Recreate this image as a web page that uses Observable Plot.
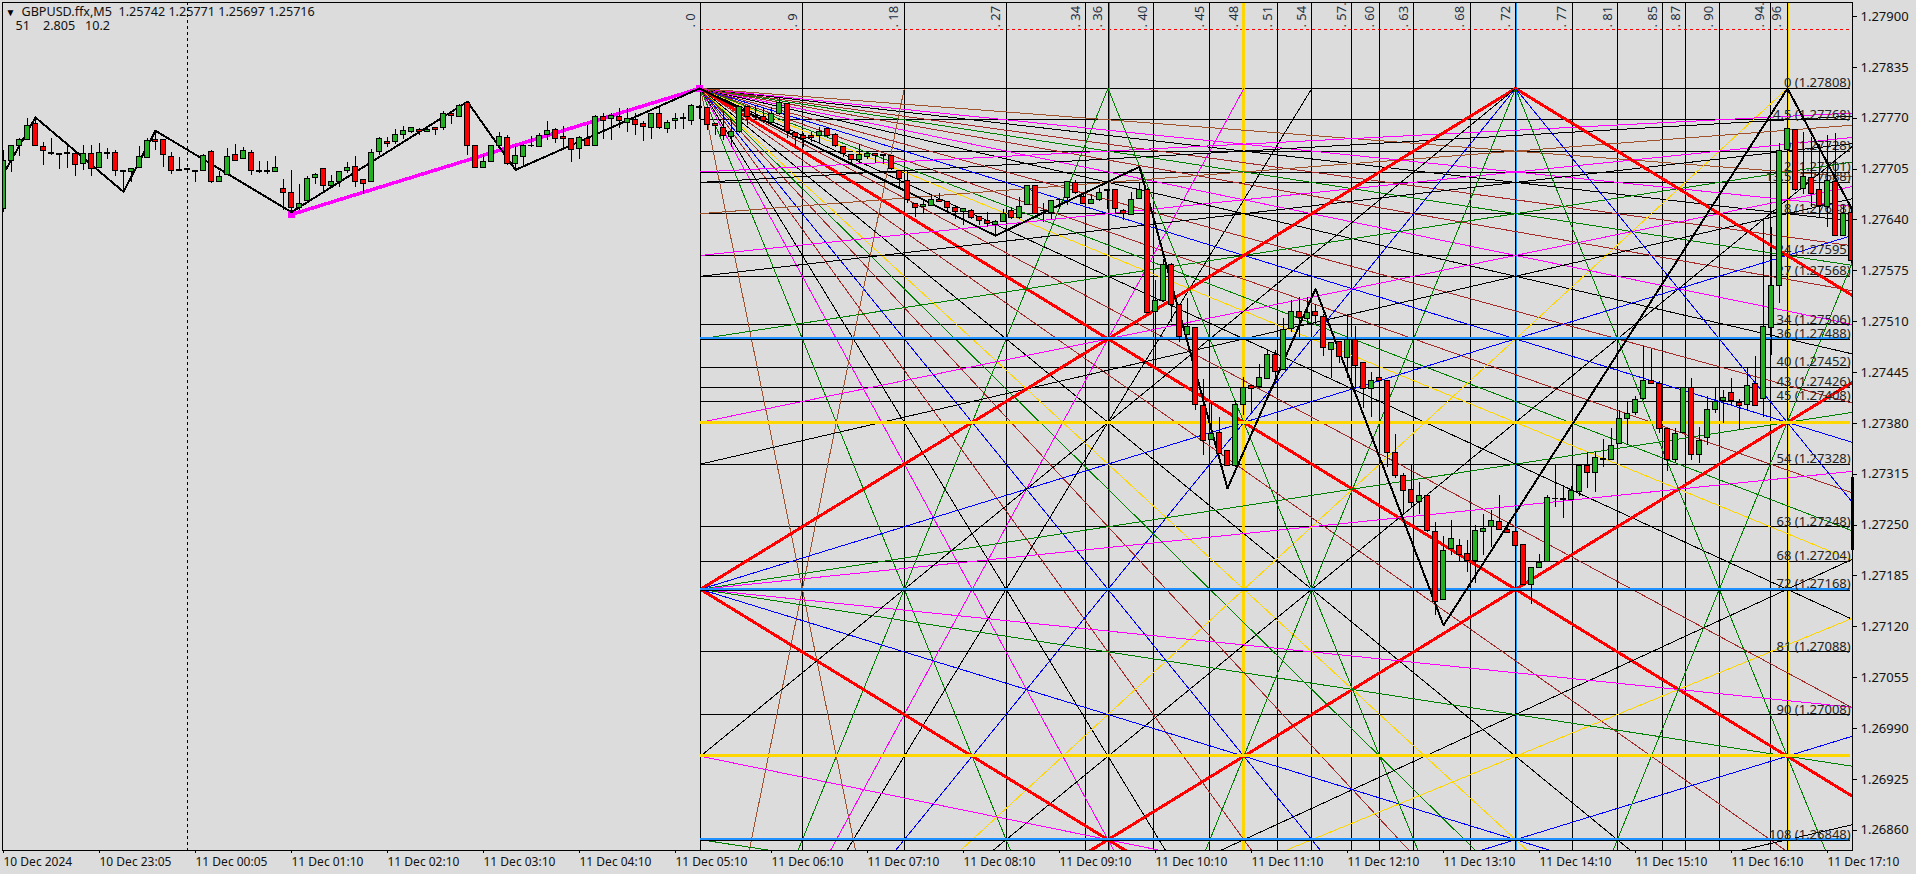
<!DOCTYPE html>
<html>
<head>
<meta charset="utf-8">
<script src="https://cdn.jsdelivr.net/npm/d3@7"></script>
<script src="https://cdn.jsdelivr.net/npm/@observablehq/plot@0.6"></script>
<style>html,body{margin:0;padding:0;background:#dcdcdc;overflow:hidden}svg{display:block}</style>
</head>
<body>
<div id="chart"></div>
<script>
// candle values in points (1e-5), one entry per 5-minute bar
const opens=[127654,127715,127734,127742,127762,127733,127725,127724,127726,127724,127712,127724,127707,127726,127726,127703,127701,127706,127719,127742,127742,127721,127704,127705,127703,127703,127727,127688,127698,127723,127718,127726,127703,127702,127701,127680,127675,127655,127664,127694,127705,127683,127688,127702,127708,127691,127688,127727,127739,127739,127749,127752,127755,127753,127757,127757,127775,127772,127789,127734,127707,127714,127734,127745,127712,127721,127735,127733,127749,127755,127746,127743,127731,127744,127735,127772,127769,127772,127764,127768,127762,127758,127775,127756,127766,127770,127767,127784,127783,127762,127758,127746,127752,127784,127773,127771,127764,127776,127788,127751,127747,127747,127747,127756,127749,127733,127723,127717,127721,127724,127723,127722,127702,127690,127660,127656,127658,127666,127663,127655,127650,127651,127644,127639,127633,127638,127652,127643,127659,127684,127652,127649,127666,127668,127687,127669,127661,127666,127678,127678,127651,127646,127667,127678,127522,127537,127583,127531,127493,127502,127402,127359,127368,127345,127325,127404,127428,127426,127437,127468,127448,127501,127522,127514,127522,127516,127474,127484,127464,127486,127457,127424,127438,127434,127342,127313,127295,127279,127287,127241,127154,127219,127223,127213,127204,127241,127247,127254,127244,127241,127224,127173,127195,127203,127284,127284,127282,127292,127325,127316,127334,127333,127354,127386,127393,127411,127434,127431,127373,127333,127368,127425,127339,127361,127397,127408,127419,127406,127404,127431,127411,127502,127555,127729,127755,127680,127693,127678,127657,127689,127620,127649];
const closes=[127715,127734,127742,127760,127734,127728,127724,127723,127724,127710,127724,127705,127726,127724,127703,127701,127705,127720,127741,127739,127723,127703,127702,127704,127701,127722,127688,127695,127720,127715,127728,127702,127701,127701,127707,127675,127655,127661,127692,127698,127684,127688,127701,127707,127688,127686,127725,127743,127737,127749,127754,127757,127752,127755,127755,127776,127773,127786,127735,127707,127714,127734,127746,127711,127722,127735,127734,127747,127754,127743,127744,127730,127745,127735,127772,127766,127773,127767,127769,127761,127759,127775,127757,127764,127769,127769,127785,127783,127761,127760,127747,127753,127784,127772,127771,127766,127776,127790,127752,127746,127744,127745,127753,127747,127734,127724,127717,127723,127724,127722,127722,127705,127692,127665,127655,127659,127666,127663,127655,127650,127654,127642,127639,127635,127637,127648,127643,127657,127683,127648,127651,127664,127665,127688,127674,127661,127666,127675,127677,127654,127648,127666,127678,127521,127537,127583,127531,127491,127503,127404,127357,127367,127341,127325,127404,127425,127424,127438,127468,127446,127499,127522,127515,127521,127517,127477,127483,127465,127487,127454,127424,127434,127434,127342,127313,127293,127278,127287,127242,127152,127217,127232,127212,127204,127243,127245,127255,127244,127240,127223,127174,127195,127202,127285,127283,127282,127293,127326,127317,127336,127333,127351,127385,127392,127410,127434,127431,127373,127333,127367,127425,127339,127357,127397,127407,127413,127408,127402,127428,127402,127503,127555,127728,127756,127678,127695,127673,127658,127690,127620,127648,127587];
const highs=[127729,127735,127744,127770,127770,127739,127744,127725,127735,127724,127735,127735,127738,127731,127729,127703,127705,127734,127744,127752,127742,127726,127720,127706,127703,127724,127729,127702,127731,127737,127733,127729,127715,127715,127721,127692,127703,127685,127695,127700,127705,127697,127702,127714,127721,127691,127730,127745,127745,127756,127759,127757,127757,127760,127758,127778,127776,127787,127792,127735,127722,127734,127752,127748,127734,127737,127747,127750,127766,127757,127759,127744,127747,127761,127773,127776,127776,127783,127782,127776,127766,127776,127784,127767,127776,127776,127787,127786,127783,127762,127778,127767,127785,127784,127786,127784,127784,127797,127788,127751,127750,127752,127758,127758,127750,127733,127723,127737,127727,127724,127724,127722,127703,127703,127660,127665,127672,127674,127663,127655,127654,127653,127644,127649,127639,127654,127656,127669,127683,127684,127661,127665,127666,127688,127690,127675,127673,127680,127678,127678,127654,127675,127688,127680,127563,127590,127584,127531,127539,127502,127436,127407,127388,127345,127409,127439,127428,127455,127475,127473,127514,127537,127541,127541,127532,127519,127483,127484,127516,127504,127457,127445,127467,127434,127366,127316,127327,127305,127287,127254,127236,127256,127232,127230,127250,127264,127269,127288,127254,127241,127224,127196,127213,127288,127328,127301,127299,127328,127343,127343,127359,127373,127397,127407,127414,127478,127474,127434,127373,127373,127425,127438,127375,127414,127424,127422,127437,127411,127451,127465,127642,127631,127738,127757,127755,127752,127746,127737,127748,127750,127658,127656];
const lows=[127650,127701,127721,127741,127734,127709,127723,127704,127706,127696,127703,127695,127707,127717,127695,127678,127688,127706,127719,127729,127707,127698,127702,127703,127688,127703,127687,127688,127697,127715,127718,127697,127699,127698,127701,127652,127648,127652,127664,127685,127675,127683,127682,127699,127682,127673,127688,127723,127733,127736,127743,127751,127748,127752,127748,127754,127762,127771,127723,127706,127706,127714,127731,127710,127705,127710,127733,127733,127742,127738,127731,127714,127717,127734,127734,127743,127742,127757,127752,127748,127740,127743,127756,127750,127755,127755,127761,127769,127754,127748,127741,127733,127751,127761,127767,127763,127763,127773,127744,127733,127733,127739,127737,127744,127732,127720,127712,127712,127717,127712,127711,127703,127682,127661,127643,127648,127657,127663,127650,127641,127633,127641,127633,127631,127620,127638,127641,127641,127658,127647,127637,127641,127654,127658,127673,127660,127660,127663,127654,127648,127639,127646,127667,127521,127452,127537,127509,127483,127492,127396,127339,127358,127340,127325,127324,127390,127394,127424,127436,127431,127448,127496,127490,127507,127507,127466,127437,127456,127437,127426,127399,127388,127409,127324,127310,127264,127273,127263,127241,127135,127154,127211,127204,127190,127175,127211,127222,127243,127239,127222,127173,127149,127194,127203,127273,127258,127282,127286,127297,127292,127324,127333,127354,127352,127390,127409,127431,127367,127319,127330,127367,127333,127329,127352,127393,127380,127403,127371,127395,127401,127388,127467,127533,127729,127677,127673,127656,127643,127631,127619,127619,127584];

// time axis: one label every 12 bars
const timeLabels=["10 Dec 2024","10 Dec 23:05","11 Dec 00:05","11 Dec 01:10","11 Dec 02:10","11 Dec 03:10","11 Dec 04:10","11 Dec 05:10","11 Dec 06:10","11 Dec 07:10","11 Dec 08:10","11 Dec 09:10","11 Dec 10:10","11 Dec 11:10","11 Dec 12:10","11 Dec 13:10","11 Dec 14:10","11 Dec 15:10","11 Dec 16:10","11 Dec 17:10"];
const priceTicks=[1.279,1.27835,1.2777,1.27705,1.2764,1.27575,1.2751,1.27445,1.2738,1.27315,1.2725,1.27185,1.2712,1.27055,1.2699,1.26925,1.2686];

// zigzag and the magenta swing [bar, points]
const zigzagBars=[0,4,15,19,36,58,64,87,124,142,153,164,180,223,231];
const zigzagPts=[127699,127771,127676,127754,127650,127791,127704,127808,127620,127708,127297,127552,127122,127808,127655];
const swingBars=[36,87];
const swingPts=[127647,127808];

// Gann levels (unit, price text)
const levelUnits=[0,4.5,9,12,13.5,18,24,27,34,36,40,43,45,48,54,63,68,72,81,90,96,108];
const levelPrices=[1.27808,1.27768,1.27728,1.27701,1.27688,1.27648,1.27595,1.27568,1.27506,1.27488,1.27452,1.27426,1.27408,1.27381,1.27328,1.27248,1.27204,1.27168,1.27088,1.27008,1.26955,1.26848];
const timeUnits=[0,9,18,27,34,36,40,45,48,51,54,57.5,60,63,68,72,77,81,85,87,90,94.5,96];

// fan slopes (price units per time unit) and colours
const SIENNA="#a0522d",DRED="#a52a2a",GREEN="#008000",MAG="#ff00ff",BLUE="#0000ff",GOLD="#ffd700",RED="#ff0000",BLK="#000000",SKY="#1e90ff";
const originFan=[[8,SIENNA],[4,GREEN],[3,MAG],[8/3,BLK],[9/4,DRED],[2,BLUE],[7/4,DRED],[8/5,GREEN],[3/2,GOLD],[4/3,BLK],[8/7,DRED],[1,RED],[7/8,DRED],[3/4,BLK],[2/3,GOLD],[5/8,GREEN],[4/7,DRED],[1/2,BLUE],[4/9,DRED],[3/8,BLK],[1/3,MAG],[2/7,DRED],[1/4,GREEN],[2/9,DRED],[3/16,BLK],[1/6,MAG],[1/8,SIENNA]];
const lowerHubFan=[[8,SIENNA],[4,GREEN],[3,MAG],[8/3,BLK],[2,BLUE],[3/2,GOLD],[4/3,BLK],[1,RED],[3/4,BLK],[2/3,GOLD],[1/2,BLUE],[3/8,BLK]];
const farHubFan=[[1/12,MAG],[3/32,BLK],[1/8,SIENNA],[1/6,MAG],[3/16,BLK],[1/4,GREEN],[1/3,MAG],[3/8,BLK],[1/2,BLUE]];
const midHubFan=[[1,RED],[1/2,BLUE],[1/4,GREEN],[1/6,MAG]];
const topHubFan=[[1,RED],[2,BLUE],[4,GREEN]];

const BAR0=87.125, BARS_PER_UNIT=1.415, P0=1.27808, P_PER_UNIT=0.0096/108, FAR=220;
const bx=n=>BAR0+n*BARS_PER_UNIT;
const py=n=>P0-n*P_PER_UNIT;

const segs=[];
const seg=(a,b,c,d,color)=>segs.push({x1:bx(a),y1:py(b),x2:bx(c),y2:py(d),color,w:color===RED?3:1});
for(const [s,c] of originFan) seg(0,0,FAR,FAR*s,c);
for(const [s,c] of lowerHubFan) seg(0,144,144/s,0,c);
for(const [s,c] of farHubFan) seg(144,0,0,144*s,c);
for(const [s,c] of midHubFan){ seg(0,72,72/s,0,c); seg(0,72,FAR,72+FAR*s,c); }
for(const [s,c] of topHubFan) seg(72,0,72+FAR,FAR*s,c);
seg(0,96,72,0,BLK);
seg(0,96,FAR,96+FAR/3,MAG);
seg(0,108,FAR,108+FAR/4,GREEN);
seg(72,0,36,144,GREEN);
seg(36,0,72,144,GREEN);
seg(108,0,72,144,GREEN);

const bars=opens.map((o,i)=>({i,o:o/1e5,c:closes[i]/1e5,h:highs[i]/1e5,l:lows[i]/1e5}));
const levelRows=levelUnits.map((u,k)=>({u,p:levelPrices[k],txt:`${u} (${levelPrices[k].toFixed(5)})`,color:(u===36||u===72||u===108)?SKY:(u===48||u===96)?GOLD:null}));
const labelled=levelRows.filter(d=>d.u!==48&&d.u!==96);
const zig=zigzagBars.map((b,k)=>({b,p:zigzagPts[k]/1e5}));
const swing=swingBars.map((b,k)=>({b,p:swingPts[k]/1e5}));
const tickBars=timeLabels.map((_,k)=>k*12);
const FONT="'Noto Sans'";
const endBar=230.9;

const chart=Plot.plot({
  width:1916,height:874,
  marginLeft:2,marginRight:64,marginTop:2,marginBottom:24,
  x:{domain:[-0.125,231.125]},
  y:{domain:[1.268342,1.279179]},
  style:{background:"#dcdcdc",fontFamily:FONT,fontSize:"12px",color:"#1a1a1a",shapeRendering:"crispEdges"},
  marks:[
    // chart grid
    Plot.ruleX([23],{x:d=>d,stroke:"#000",strokeDasharray:"3,3"}),
    Plot.ruleY([1.27883],{y:d=>d,x1:bx(0),x2:231.125,stroke:RED,strokeDasharray:"3,3"}),
    Plot.text(timeUnits,{x:d=>bx(d),y:()=>1.27882,text:d=>". "+d,rotate:-90,textAnchor:"start",dx:-10,dy:-3,fill:"#1f2f3f",clip:true,fontSize:13}),
    Plot.ruleY(levelRows,{y:"p",x1:()=>bx(0),x2:()=>endBar,stroke:d=>d.color===GOLD?"none":"#000"}),
    Plot.ruleX(timeUnits,{x:d=>bx(d),stroke:d=>d===48?GOLD:"#000",strokeWidth:d=>d===48?3:1}),
    Plot.ruleX([36,72],{x:d=>bx(d),dx:1,stroke:SKY,strokeWidth:1}),
    Plot.ruleX([96],{x:d=>bx(d),dx:1,stroke:GOLD,strokeWidth:1}),
    Plot.link(segs,{x1:"x1",y1:"y1",x2:"x2",y2:"y2",stroke:"color",strokeWidth:"w",clip:true}),
    Plot.ruleY(levelRows.filter(d=>d.color===SKY),{y:"p",x1:()=>bx(0),x2:()=>endBar,stroke:"#000",dy:1}),
    Plot.ruleY(levelRows.filter(d=>d.color),{y:"p",x1:()=>bx(0),x2:()=>endBar,stroke:"color",strokeWidth:d=>d.color===GOLD?3:2,dy:d=>d.color===GOLD?0:-0.5}),
    Plot.text(labelled,{x:()=>endBar,y:"p",text:"txt",textAnchor:"end",lineAnchor:"bottom",fill:"#222",fontSize:13,dy:-1}),
    // zigzags
    Plot.line(swing,{x:"b",y:"p",stroke:MAG,strokeWidth:3.5}),
    Plot.dot(swing,{x:"b",y:"p",symbol:"square",r:3.5,fill:MAG}),
    Plot.line(zig,{x:"b",y:"p",stroke:"#000",strokeWidth:2,clip:true}),
    // candles
    Plot.ruleX(bars,{x:"i",y1:"l",y2:"h",stroke:"#000",clip:true}),
    Plot.rect(bars,{x1:d=>d.i-0.26,x2:d=>d.i+0.26,y1:"o",y2:"c",fill:d=>d.c>d.o?"#22b022":"#ff0000",stroke:"#000",clip:true}),
    // frame and axes
    Plot.frame({stroke:"#000"}),
    Plot.ruleX([231.125],{x:d=>d,y1:1.27311,y2:1.27218,stroke:"#000",strokeWidth:2.5}),
    Plot.axisY({anchor:"right",ticks:priceTicks,tickFormat:d=>d.toFixed(5),tickSize:4,tickPadding:4,label:null,fontSize:13,stroke:"#000",fill:"#111"}),
    Plot.axisX({ticks:tickBars,tickFormat:(d)=>timeLabels[d/12],tickSize:3,tickPadding:4,textAnchor:"start",label:null,fontSize:12,stroke:"#000",fill:"#111"}),
    // title
    Plot.text(["▼"],{frameAnchor:"top-left",dx:8,dy:6,fontSize:10,fill:"#000",text:d=>d,textAnchor:"middle"}),
    Plot.text(["GBPUSD.ffx,M5  1.25742 1.25771 1.25697 1.25716"],{frameAnchor:"top-left",dx:19,dy:5,fontSize:12.6,fill:"#111",text:d=>d,textAnchor:"start"}),
    Plot.text(["51    2.805   10.2"],{frameAnchor:"top-left",dx:13,dy:19,fontSize:12.6,fill:"#111",text:d=>d,textAnchor:"start",style:"white-space:pre"})
  ]
});
document.getElementById("chart").appendChild(chart);
</script>
</body>
</html>
